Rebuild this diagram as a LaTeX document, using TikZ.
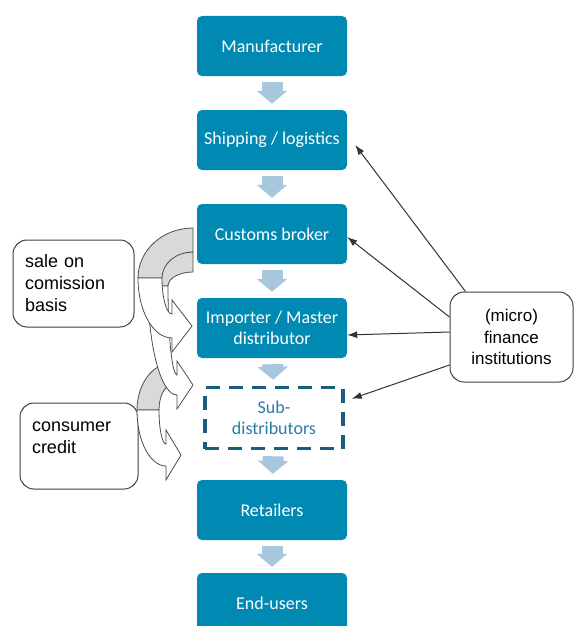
\documentclass[tikz,border=0pt]{standalone}
\usepackage{fontspec}
\setmainfont{Carlito}
\newfontfamily\arialfont{Liberation Sans}
\usetikzlibrary{positioning,arrows.meta}
\definecolor{stepblue}{RGB}{0,137,179}
\definecolor{flowblue}{RGB}{167,199,221}
\definecolor{dashblue}{RGB}{27,93,127}
\definecolor{subtext}{RGB}{43,124,164}
\definecolor{bandgray}{RGB}{216,218,218}

% curved block arrow: right x, top y, band width, left x, turn y, head x, head y, tip x
\newcommand{\bentarrow}[8]{%
  \pgfmathsetmacro\rxa{#1-#4}\pgfmathsetmacro\rya{#5-#2}%
  \pgfmathsetmacro\rxb{#1-#4-#3}\pgfmathsetmacro\ryb{#5-#2-#3}%
  \pgfmathsetmacro\rxc{#6-#4}\pgfmathsetmacro\ryc{#7+#3/2-#5}%
  \pgfmathsetmacro\rxd{#6-#4-#3}\pgfmathsetmacro\ryd{#7-#3/2-#5}%
  \filldraw[backband] (#1,#2) arc[start angle=90,end angle=180,x radius=\rxa pt,y radius=\rya pt]
    -- ++(#3,0) arc[start angle=180,end angle=90,x radius=\rxb pt,y radius=\ryb pt] -- cycle;
  \filldraw[frontband] (#4,#5) arc[start angle=180,end angle=270,x radius=\rxc pt,y radius=\ryc pt]
    -- (#6,#7+#3/2+14) -- (#8,#7) -- (#6,#7-#3/2-14) -- (#6,#7-#3/2)
    arc[start angle=270,end angle=180,x radius=\rxd pt,y radius=\ryd pt] -- cycle;
}

\begin{document}
\begin{tikzpicture}[
    x=1pt, y=-1pt,
    node distance=94pt,
    >={Latex[length=10pt,width=7pt]},
    chainbox/.style={rectangle, fill=stepblue, rounded corners=5pt, minimum width=150pt, minimum height=60pt, text=white, align=center, font=\fontsize{18}{20.5}\selectfont},
    subbox/.style={rectangle, draw=dashblue, line width=3.5pt, dash pattern=on 14pt off 9pt, minimum width=138pt, minimum height=61pt, text=subtext, align=center, font=\fontsize{18}{20.5}\selectfont},
    notebox/.style={rectangle, draw=black!75, line width=1pt, rounded corners=14pt, fill=white, font=\arialfont\fontsize{18}{22}\selectfont},
    flow/.style={line width=21pt, flowblue, shorten <=6pt, shorten >=6pt, -{Triangle[length=13pt,width=30pt]}},
    finline/.style={draw=black!80, line width=1pt},
    backband/.style={fill=bandgray, draw=black!70, line width=0.8pt},
    frontband/.style={fill=white, draw=black!70, line width=0.8pt}
  ]
  \useasboundingbox (0,0) rectangle (574,626);
  % Blocks
  \node [chainbox] (manu) at (272,46) {Manufacturer};
  \node [chainbox, below of=manu] (ship) {Shipping / logistics};
  \node [chainbox, below of=ship] (cust) {Customs broker};
  \node [chainbox, below of=cust] (imp) {Importer / Master\\distributor};
  \node [subbox, below of=imp, node distance=90pt, xshift=2pt] (sub) {Sub-\\distributors};
  \node [chainbox, below of=sub, node distance=92pt, xshift=-2pt] (ret) {Retailers};
  \node [chainbox, below of=ret, node distance=93pt] (end) {End-users};

  \node [notebox, minimum width=121pt, minimum height=87pt, text width=97pt, align=left] (sale) at (73.5,283.5) {sale on\\comission\\basis};
  \node [notebox, minimum width=118pt, minimum height=86pt, text width=94pt, align=left] (cred) at (79,446) {consumer\\credit\vspace{16pt}};
  \node [notebox, minimum width=123pt, minimum height=90pt, align=center, font=\arialfont\fontsize{17}{21.5}\selectfont] (fin) at (511.5,337) {(micro)\\finance\\institutions};

  % Curved arrows
  \bentarrow{172}{363}{22}{137}{410}{166}{455}{181}
  \bentarrow{193}{252}{20}{148}{286}{177}{385}{193}
  \bentarrow{193}{228}{24}{138}{278}{172}{326}{192}

  % Connections
  \draw [flow] (manu) -- (ship);
  \draw [flow] (ship) -- (cust);
  \draw [flow] (cust) -- (imp);
  \draw [flow] (imp) -- (sub);
  \draw [flow] (sub) -- (ret);
  \draw [flow] (ret) -- (end);

  \draw [->, finline] ([xshift=16pt]fin.north west) -- ([xshift=8pt,yshift=-5pt]ship.east);
  \draw [->, finline] ([yshift=20pt]fin.west) -- ([yshift=-3pt]cust.east);
  \draw [->, finline] ([yshift=5pt]fin.west) -- ([yshift=-7pt]imp.east);
  \draw [->, finline] ([yshift=-28pt]fin.west) -- ([xshift=7pt,yshift=-13pt]sub.north east);
\end{tikzpicture}
\end{document}
